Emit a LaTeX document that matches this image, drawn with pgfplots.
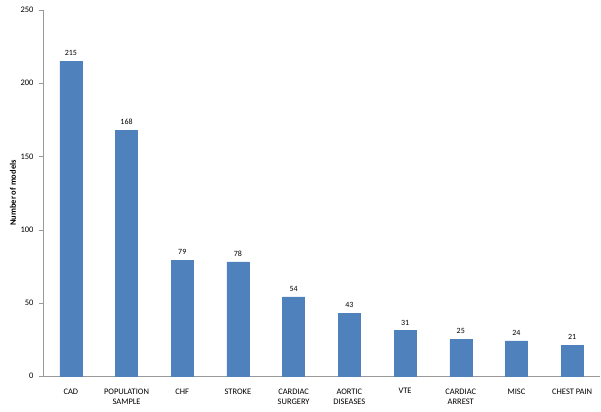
\documentclass[border=0pt]{standalone}
\usepackage{fontspec}
\setmainfont{Carlito}
\usepackage{pgfplots}
\pgfplotsset{compat=1.18}
\begin{document}
\begin{tikzpicture}
\begin{axis}[
  scale only axis,
  width=557bp, height=366bp,
  xmin=-0.5, xmax=9.5,
  ymin=0, ymax=250,
  ytick={0,50,...,250},
  xtick={0,...,9},
  xticklabels={CAD,POPULATION\\SAMPLE,CHF,STROKE,CARDIAC\\SURGERY,AORTIC\\DISEASES,VTE,CARDIAC\\ARREST,MISC,CHEST PAIN},
  x tick label style={align=center, font=\fontsize{8.5}{11}\selectfont, yshift=-5pt},
  y tick label style={font=\fontsize{8.5}{10}\selectfont, xshift=-2pt},
  /pgf/number format/assume math mode=true,
  axis x line*=bottom,
  axis y line*=left,
  axis line style={draw=gray!80},
  x axis line style={-},
  y axis line style={-},
  major x tick style={draw=none},
  major y tick style={draw=gray!80},
  tick align=outside,
  major tick length=4bp,
  ylabel={\textbf{Number of models}},
  ylabel style={font=\fontsize{8.5}{10}\selectfont, at={(axis description cs:0,0.5)}, anchor=center, yshift=30bp},
  ybar, bar width=22bp,
  nodes near coords,
  every node near coord/.append style={font=\fontsize{8}{9}\selectfont, black, yshift=2pt},
  after end axis/.code={
    \path ([xshift=-43bp,yshift=-35bp]rel axis cs:0,0) rectangle ([xshift=1bp,yshift=10bp]rel axis cs:1,1);
  },
]
\addplot[fill={rgb,255:red,79;green,129;blue,189}, draw={rgb,255:red,79;green,129;blue,189}] coordinates {
(0,215) (1,168) (2,79) (3,78) (4,54) (5,43) (6,31) (7,25) (8,24) (9,21)};
\end{axis}
\end{tikzpicture}
\end{document}
